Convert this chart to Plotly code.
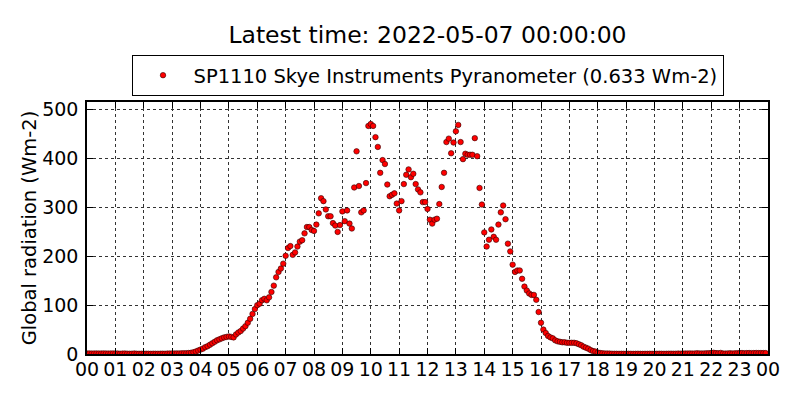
import pandas as pd
import plotly.graph_objects as go

# 5-minute global radiation readings (Wm-2), one row of 12 per hour
radiation = [
    1.0, 1.2, 0.8, 1.0, 1.1, 0.9, 1.0, 1.2, 1.0, 0.8, 1.0, 1.1,          # 00
    1.0, 0.9, 0.6, 0.8, 1.0, 0.7, 0.5, 0.6, 1.0, 0.6, 0.5, 0.6,          # 01
    0.5, 0.6, 0.5, 0.4, 0.6, 0.5, 0.5, 0.6, 0.7, 0.6, 0.8, 0.9,          # 02
    1.0, 1.0, 1.2, 1.1, 1.3, 1.5, 1.6, 2.0, 2.5, 3.5, 5.0, 7.0,          # 03
    9, 11, 14, 16, 19, 22, 25, 28, 30, 32, 34, 35,                       # 04
    36, 35, 34, 40, 44, 47, 52, 57, 64, 72, 82, 92,                      # 05
    100, 103, 110, 113, 110, 116, 127, 140, 157, 168, 175, 185,          # 06
    201, 217, 221, 203, 208, 220, 230, 233, 247, 260, 260, 254,          # 07
    252, 265, 288, 319, 313, 296, 282, 282, 268, 263, 250, 264,          # 08
    292, 272, 294, 267, 257, 341, 415, 344, 290, 294, 350, 467,          # 09
    471, 467, 444, 424, 371, 397, 389, 347, 323, 326, 329, 308,          # 10
    294, 313, 348, 367, 378, 362, 369, 348, 337, 331, 311, 311,          # 11
    297, 275, 267, 275, 277, 307, 342, 371, 434, 441, 411, 433,          # 12
    456, 469, 434, 399, 410, 408, 408, 408, 442, 405, 340, 306,          # 13
    249, 220, 234, 255, 240, 234, 265, 290, 304, 276, 226, 210,          # 14
    183, 168, 171, 171, 154, 138, 130, 124, 121, 121, 111, 86,           # 15
    64, 50, 43, 37, 34, 32, 28, 26, 25, 24, 24, 23,                      # 16
    23, 23, 23, 22, 20, 18, 15, 13, 11, 8, 6, 5,                         # 17
    3.0, 2.0, 1.5, 1.0, 1.0, 0.8, 0.6, 0.5, 0.5, 0.4, 0.5, 0.4,          # 18
    0.4, 0.5, 0.4, 0.3, 0.4, 0.5, 0.4, 0.3, 0.4, 0.4, 0.5, 0.4,          # 19
    0.4, 0.5, 0.6, 0.5, 0.4, 0.5, 0.6, 0.7, 0.5, 0.6, 0.8, 0.7,          # 20
    0.8, 1.0, 0.9, 1.2, 0.8, 1.0, 1.5, 1.2, 1.0, 1.2, 1.4, 1.6,          # 21
    2.0, 2.5, 1.8, 1.5, 2.2, 1.0, 0.8, 1.2, 1.5, 1.0, 1.3, 1.6,          # 22
    1.8, 2.0, 1.6, 1.8, 2.0, 1.7, 1.9, 2.1, 1.8, 2.0, 1.9, 1.8,          # 23
]
times = pd.date_range("2022-05-06 00:00", periods=len(radiation), freq="5min")

latest = "2022-05-07 00:00:00"
series_name = "SP1110 Skye Instruments Pyranometer (0.633 Wm-2)"
font = "DejaVu Sans"

fig = go.Figure()
fig.add_trace(go.Scatter(
    x=times, y=radiation, mode="markers", name=series_name,
    marker=dict(color="red", size=5.5, line=dict(color="#300000", width=0.6)),
))

axis_style = dict(
    showline=True, linecolor="black", linewidth=1.5, mirror="allticks",
    ticks="inside", ticklen=6, tickcolor="black", automargin=False,
    showgrid=True, gridcolor="#333333", griddash="dot", gridwidth=0.8,
    zeroline=False, tickfont=dict(family=font, size=19, color="black"),
)

fig.update_layout(
    width=800, height=400,
    paper_bgcolor="white", plot_bgcolor="white",
    margin=dict(l=79, r=40, t=94, b=54),
    font=dict(family=font, color="black"),
    title=dict(text="Latest time: " + latest, x=0.5, xref="paper",
               y=0.9325, yanchor="middle", font=dict(family=font, size=23.5)),
    showlegend=True,
    legend=dict(x=0.5, xanchor="center", xref="paper",
                y=1 - 47 / 400, yanchor="top", yref="container",
                bordercolor="black", borderwidth=1, bgcolor="white",
                font=dict(family=font, size=19.5), itemwidth=51),
    xaxis=dict(axis_style, range=["2022-05-06 00:00", "2022-05-07 00:00"],
               dtick=3600000, tickformat="%H", ticklabelstandoff=-3),
    yaxis=dict(axis_style, range=[0, 516], dtick=100, ticklabelstandoff=3,
               title=dict(text="Global radiation (Wm-2)", font=dict(family=font, size=19.5),
                          standoff=0)),
)

fig.write_html("out.html")
